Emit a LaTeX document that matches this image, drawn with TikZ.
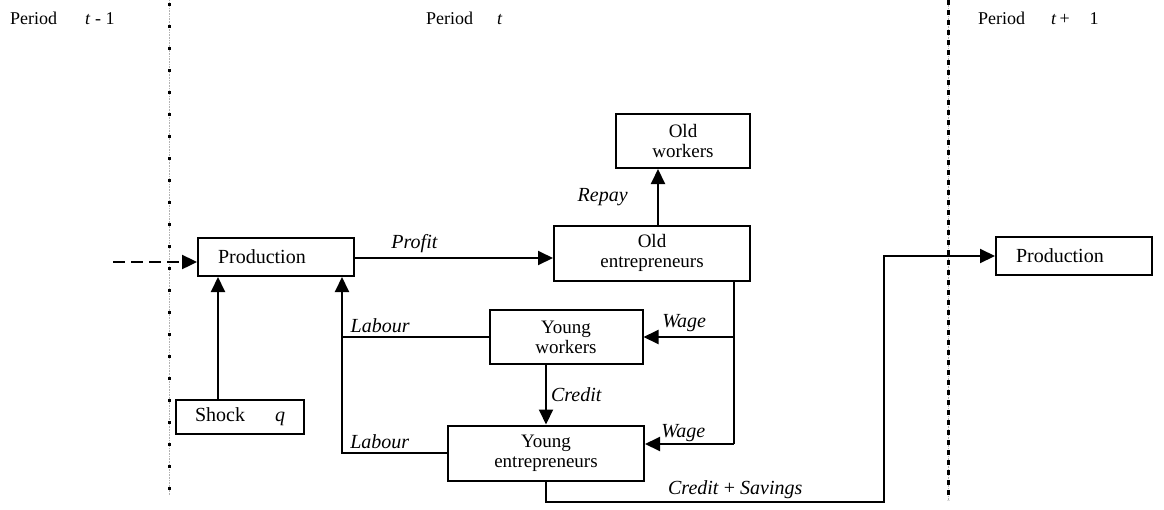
\documentclass[tikz,border=0pt]{standalone}
\usepackage{fontspec}
\setmainfont{Liberation Serif}
\usetikzlibrary{arrows.meta}
\tikzset{>={Triangle[length=15pt,width=14pt]}}
\tikzset{
  box/.style = {draw,line width=2pt,inner sep=0pt,align=center,font=\fontsize{19}{20}\selectfont},
  prodbox/.style = {box,minimum width=156pt,minimum height=38pt,text width=116pt,align=left,font=\fontsize{20}{21}\selectfont},
  flow/.style = {line width=2pt},
  lbl/.style = {font=\fontsize{20}{21}\selectfont\itshape},
  period/.style = {anchor=base west,inner sep=0pt,font=\fontsize{18}{20}\selectfont},
  sepline/.style = {draw=gray!60,line width=0.6pt,densely dotted},
  sepdots/.style = {line width=3pt,dash pattern=on 3pt off 19pt},
  sepdash/.style = {line width=3pt,dash pattern=on 5pt off 5pt}
}

\begin{document}
\begin{tikzpicture}[x=1pt,y=-1pt]
  \useasboundingbox (0,0) rectangle (1164,509);
  \draw[sepline] (169,0) -- (169,495);
  \draw[sepdots] (169,3) -- (169,495);
  \draw[sepline] (948,0) -- (948,500);
  \draw[sepdash] (948,0) -- (948,500);
  \node[period] (pprev) at (10,24) {Period\hspace{28pt}\textit{t} - 1};
  \node[period] (pcur) at (426,24) {Period\hspace{24pt}\textit{t}};
  \node[period] (pnext) at (978,24) {Period\hspace{26pt}\textit{t}\,+\hspace{20pt}1};

  \node[prodbox] (prod) at (276,257) {Production};
  \node[prodbox] (prod2) at (1074,256) {Production};
  \node[box,minimum width=128pt,minimum height=34pt,font=\fontsize{20}{21}\selectfont] (shock) at (240,417) {Shock\hspace{30pt}\textit{q}};
  \node[box,minimum width=196pt,minimum height=55pt] (oldent) at (652,253) {Old\\entrepreneurs};
  \node[box,minimum width=134pt,minimum height=54pt] (oldwork) at (683,141) {Old\\workers};
  \node[box,minimum width=153pt,minimum height=54pt] (youngw) at (566,337) {Young\\workers};
  \node[box,minimum width=196pt,minimum height=55pt] (youngent) at (546,453) {Young\\entrepreneurs};

  \coordinate (ext) at (113,262);
  \coordinate (lab) at (342,454);
  \coordinate (wbus) at (734,444);
  \coordinate (cs) at (884,502);

  \draw[flow,line width=2.4pt,dash pattern=on 12pt off 6pt,->] (ext) -- (ext -| prod.west);
  \draw[flow,->] ([xshift=-22pt]shock.north) -- ([xshift=-22pt]shock.north |- prod.south);
  \draw[flow,->] ([yshift=-1pt]prod.east) -- ([yshift=-1pt]prod.east -| oldent.west) node[lbl,above,pos=0.3,inner sep=4pt] {Profit};
  \draw[flow,->] ([xshift=6pt]oldent.north) -- ([xshift=6pt]oldent.north |- oldwork.south) node[lbl,left,midway,xshift=-26pt] {Repay};
  \draw[flow] (oldent.south -| wbus) -- (wbus);
  \draw[flow,->] (wbus |- youngw.east) -- (youngw.east) node[lbl,above,pos=0.55,inner sep=4pt] {Wage};
  \draw[flow,->] (wbus) -- (wbus -| youngent.east) node[lbl,above,pos=0.57,inner sep=1pt] {Wage};
  \draw[flow,->] (youngent.north |- youngw.south) -- (youngent.north) node[lbl,right,midway,inner sep=4pt] {Credit};
  \draw[flow] (youngw.west) -- (youngw.west -| lab) node[lbl,above,pos=0.74,inner sep=3pt] {Labour};
  \draw[flow,->] (youngent.west) -| (lab |- prod.south) node[lbl,above,pos=0.32,inner sep=3pt] {Labour};
  \draw[flow,->] (youngent.south) |- (cs) node[above,pos=0.78,inner sep=2pt,font=\fontsize{20}{21}\selectfont] {\textit{Credit} + \textit{Savings}} |- (prod2.west);
\end{tikzpicture}
\end{document}
